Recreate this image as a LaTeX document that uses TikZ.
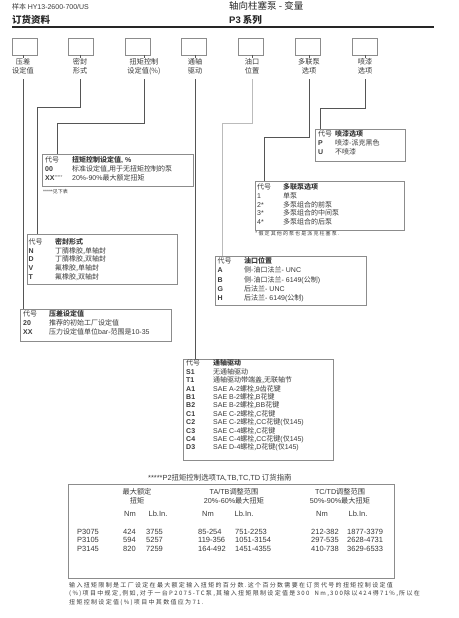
\documentclass[tikz,border=0pt]{standalone}
\usepackage{fontspec}
\setmainfont{Noto Sans CJK SC}
\newfontfamily\lat{Liberation Sans}
\newfontfamily\spc{Noto Sans CJK SC}[LetterSpace=22]
\newcommand\en[1]{{\lat #1}}
\newcommand\cb[1]{{\lat\bfseries #1}}
\definecolor{txtc}{HTML}{3A3A3A}
\definecolor{boxc}{HTML}{8C8C8C}
\definecolor{linec}{HTML}{555555}
\definecolor{lightl}{HTML}{BBBBBB}
\tikzset{
  optbox/.style={draw=boxc, line width=0.8pt, minimum width=25pt, minimum height=17pt, inner sep=0pt, anchor=north west},
  tbox/.style={draw=boxc, line width=0.7pt, inner sep=0pt, anchor=north west},
  conn/.style={draw=linec, line width=0.7pt},
  lbl/.style={font=\fontsize{7.2}{9}\selectfont, text=txtc, inner sep=0pt, align=center, anchor=north},
  tx/.style={font=\fontsize{7}{8}\selectfont, text=txtc, inner sep=0pt, anchor=base west},
  num/.style={font=\lat\fontsize{7.5}{8}\selectfont, text=txtc, inner sep=0pt, anchor=base west},
  numc/.style={num, anchor=base},
}
\newcommand\tbrow[6]{%
  \node[tx] (#1c) at (#2,#4) {#5};
  \node[tx] (#1d) at (#3,#4) {#6};}
\begin{document}
\begin{tikzpicture}[x=1pt,y=-1pt]
\useasboundingbox[fill=white] (0,0) rectangle (458,618);
% header
\node[tx, font=\fontsize{7}{8}\selectfont] (h1) at (12,10) {样本 \en{HY13-2600-700/US}};
\node[tx, font=\fontsize{9.5}{11}\selectfont\bfseries, text=black!85] (h2) at (12,24) {订货资料};
\node[tx, font=\fontsize{9.5}{11}\selectfont, text=black!85] (h3) at (229,10) {轴向柱塞泵 - 变量};
\node[tx, font=\fontsize{9.5}{11}\selectfont\bfseries, text=black!85] (h4) at (229,24) {\en{P3} 系列};
\draw[line width=1.4pt, black!85] (12,27) -- (434,27);
% top option boxes
\node[optbox] (b1) at (12,38) {};
\node[optbox] (b2) at (68,38) {};
\node[optbox] (b3) at (125,38) {};
\node[optbox] (b4) at (181,38) {};
\node[optbox] (b5) at (238,38) {};
\node[optbox] (b6) at (295,38) {};
\node[optbox] (b7) at (352,38) {};
\foreach \i/\x in {1/23,2/80,3/144,4/195,5/252,6/309,7/365}{
  \coordinate (t\i) at (\x,55);
  \coordinate (u\i) at (\x,58);
  \coordinate (c\i) at (\x,79);
  \draw[linec, line width=0.6pt] (t\i) -- (u\i);
}
\node[lbl] (l1) at (23,58.5) {压差\\设定值};
\node[lbl] (l2) at (80,58.5) {密封\\形式};
\node[lbl] (l3) at (144,58.5) {扭矩控制\\设定值(\%)};
\node[lbl] (l4) at (195,58.5) {通轴\\驱动};
\node[lbl] (l5) at (252,58.5) {油口\\位置};
\node[lbl] (l6) at (309,58.5) {多联泵\\选项};
\node[lbl] (l7) at (365,58.5) {喷漆\\选项};
% table boxes
\node[tbox, minimum width=90pt, minimum height=32pt] (pa) at (315,129) {};
\node[tbox, minimum width=151pt, minimum height=32pt] (tq) at (42,154) {};
\node[tbox, minimum width=149pt, minimum height=49pt] (mp) at (255,181) {};
\node[tbox, minimum width=150pt, minimum height=50pt] (seal) at (27,234) {};
\node[tbox, minimum width=151pt, minimum height=49pt] (pt) at (215,256) {};
\node[tbox, minimum width=151pt, minimum height=32pt] (pr) at (20,309) {};
\node[tbox, minimum width=150pt, minimum height=101pt] (td) at (183,359) {};
% connectors
\draw[conn] (c1) -- (c1 |- pr.north);
\draw[conn] (c2) -- (80,107) -- (37,107) -- (37,234);
\draw[conn] (c3) -- (144,123) -- (57,123) -- (57,154);
\draw[conn] (c4) -- (c4 |- td.north);
\draw[conn, draw=lightl] (c5) -- (252,123) -- (222,123) -- (222,256);
\draw[conn] (c6) -- (309,137) -- (264,137) -- (264,181);
\draw[conn] (c7) -- (365,108) -- (320,108) -- (320,129);
% paint
\tbrow{pa0}{318}{335}{136}{代号}{\textbf{喷漆选项}}
\tbrow{pa1}{318}{335}{145.5}{\cb{P}}{喷漆-派克黑色}
\tbrow{pa2}{318}{335}{154.8}{\cb{U}}{不喷漆}
% torque
\tbrow{tq0}{45}{72}{162.8}{代号}{\textbf{扭矩控制设定值\en{, \%}}}
\tbrow{tq1}{45}{72}{171.5}{\cb{00}}{标准设定值,用于无扭矩控制的泵}
\tbrow{tq2}{45}{72}{180}{\cb{XX}\raisebox{2pt}{\fontsize{4}{4}\selectfont\lat *****}}{\en{20\%-90\%}最大额定扭矩}
\node[tx, font=\fontsize{5}{6}\selectfont] (tqn) at (43,193) {\en{*****}见下表};
% multi
\tbrow{mp0}{257}{283}{189.8}{代号}{\textbf{多联泵选项}}
\tbrow{mp1}{257}{283}{198.4}{\en{1}}{单泵}
\tbrow{mp2}{257}{283}{207.1}{\en{2*}}{多泵组合的前泵}
\tbrow{mp3}{257}{283}{215.8}{\en{3*}}{多泵组合的中间泵}
\tbrow{mp4}{257}{283}{224.5}{\en{4*}}{多泵组合的后泵}
\node[tx, font=\spc\fontsize{5}{6}\selectfont] (mpn) at (255,235.5) {*假定其他的泵也是派克柱塞泵.};
% seal
\tbrow{se0}{28.5}{55}{244.2}{代号}{\textbf{密封形式}}
\tbrow{se1}{28.5}{55}{253}{\cb{N}}{丁腈橡胶,单轴封}
\tbrow{se2}{28.5}{55}{261.8}{\cb{D}}{丁腈橡胶,双轴封}
\tbrow{se3}{28.5}{55}{270.6}{\cb{V}}{氟橡胶,单轴封}
\tbrow{se4}{28.5}{55}{279.4}{\cb{T}}{氟橡胶,双轴封}
% port
\tbrow{pt0}{217.5}{244}{263.8}{代号}{\textbf{油口位置}}
\tbrow{pt1}{217.5}{244}{272.9}{\cb{A}}{侧-油口法兰\en{- UNC}}
\tbrow{pt2}{217.5}{244}{282}{\cb{B}}{侧-油口法兰\en{- 6149(}公制\en{)}}
\tbrow{pt3}{217.5}{244}{291.1}{\cb{G}}{后法兰\en{- UNC}}
\tbrow{pt4}{217.5}{244}{300.2}{\cb{H}}{后法兰\en{- 6149(}公制\en{)}}
% pressure
\tbrow{pr0}{23}{49}{316.8}{代号}{\textbf{压差设定值}}
\tbrow{pr1}{23}{49}{325.8}{\cb{20}}{推荐的初始工厂设定值}
\tbrow{pr2}{23}{49}{334.8}{\cb{XX}}{压力设定值单位\en{bar-}范围是\en{10-35}}
% through drive
\tbrow{td0}{186}{213}{365.8}{代号}{\textbf{通轴驱动}}
\tbrow{td1}{186}{213}{374.2}{\cb{S1}}{无通轴驱动}
\tbrow{td2}{186}{213}{382.6}{\cb{T1}}{通轴驱动带端盖,无联轴节}
\tbrow{td3}{186}{213}{391}{\cb{A1}}{\en{SAE A-2}螺栓,\en{9}齿花键}
\tbrow{td4}{186}{213}{399.4}{\cb{B1}}{\en{SAE B-2}螺栓,\en{B}花键}
\tbrow{td5}{186}{213}{407.8}{\cb{B2}}{\en{SAE B-2}螺栓,\en{BB}花键}
\tbrow{td6}{186}{213}{416.2}{\cb{C1}}{\en{SAE C-2}螺栓,\en{C}花键}
\tbrow{td7}{186}{213}{424.6}{\cb{C2}}{\en{SAE C-2}螺栓,\en{CC}花键\en{(}仅\en{145)}}
\tbrow{td8}{186}{213}{433}{\cb{C3}}{\en{SAE C-4}螺栓,\en{C}花键}
\tbrow{td9}{186}{213}{441.4}{\cb{C4}}{\en{SAE C-4}螺栓,\en{CC}花键\en{(}仅\en{145)}}
\tbrow{td10}{186}{213}{449.8}{\cb{D3}}{\en{SAE D-4}螺栓,\en{D}花键\en{(}仅\en{145)}}
% torque table
\node[tx, font=\fontsize{7.4}{8}\selectfont] (tt) at (148,480) {\en{*****P2}扭矩控制选项\en{TA,TB,TC,TD} 订货指南};
\node[tbox, minimum width=326pt, minimum height=94pt] (tbl) at (68,484) {};
\node[lbl, font=\fontsize{7.2}{9}\selectfont] (th1) at (137,488.5) {最大额定\\扭矩};
\node[lbl, font=\fontsize{7.2}{9}\selectfont] (th2) at (234,488.5) {\en{TA/TB}调整范围\\\en{20\%-60\%}最大扭矩};
\node[lbl, font=\fontsize{7.2}{9}\selectfont] (th3) at (340,488.5) {\en{TC/TD}调整范围\\\en{50\%-90\%}最大扭矩};
\node[numc] (n1) at (130,516) {Nm};
\node[numc] (n2) at (158,516) {Lb.In.};
\node[numc] (n3) at (208,516) {Nm};
\node[numc] (n4) at (244,516) {Lb.In.};
\node[numc] (n5) at (322,516) {Nm};
\node[numc] (n6) at (358,516) {Lb.In.};
\foreach \r/\y/\a/\b/\c/\d/\e/\f/\g in {
  1/534/P3075/424/3755/85-254/751-2253/212-382/1877-3379,
  2/542.5/P3105/594/5257/119-356/1051-3154/297-535/2628-4731,
  3/551/P3145/820/7259/164-492/1451-4355/410-738/3629-6533}{
  \node[num] (r\r a) at (77,\y) {\a};
  \node[num] (r\r b) at (123,\y) {\b};
  \node[num] (r\r c) at (146,\y) {\c};
  \node[num] (r\r d) at (198,\y) {\d};
  \node[num] (r\r e) at (235,\y) {\e};
  \node[num] (r\r f) at (311,\y) {\f};
  \node[num] (r\r g) at (347,\y) {\g};
}
% footer
\node[tx, font=\spc\fontsize{6}{8}\selectfont] (f1) at (69,587) {输入扭矩限制是工厂设定在最大额定输入扭矩的百分数.这个百分数需要在订货代号的扭矩控制设定值};
\node[tx, font=\spc\fontsize{6}{8}\selectfont] (f2) at (69,595.7) {(\%)项目中规定,例如,对于一台P2075-TC泵,其输入扭矩限制设定值是300\ \ Nm,300除以424得71\%,所以在};
\node[tx, font=\spc\fontsize{6}{8}\selectfont] (f3) at (69,604.4) {扭矩控制设定值(\%)项目中其数值应为71.};
\end{tikzpicture}
\end{document}
